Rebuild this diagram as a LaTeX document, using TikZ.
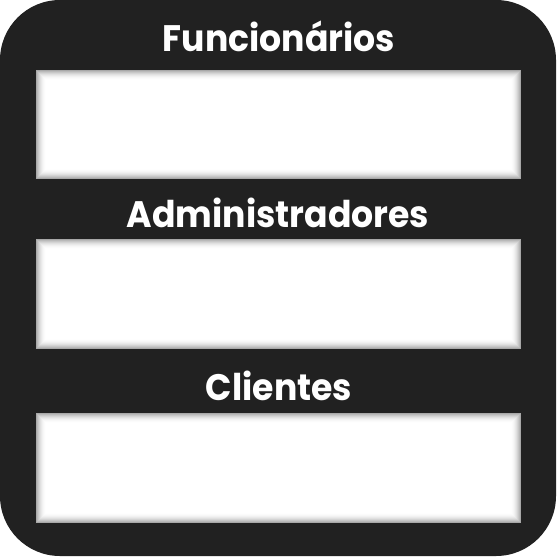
\documentclass[tikz,border=0pt]{standalone}
\usepackage{fontspec}
\setmainfont{Poppins}
\usepackage{tikz}

\definecolor{framegray}{HTML}{212121}

\tikzset{
  title/.style={text=white, font=\fontsize{37}{40}\selectfont\bfseries, inner sep=0pt, anchor=base, xscale=0.94},
}

\begin{document}
\begin{tikzpicture}[x=1bp, y=-1bp]
    \useasboundingbox (0,0) rectangle (557,557);

    % Dark outer frame
    \fill[framegray, rounded corners=60bp] (0,0) rectangle (556,556);

    % Panels with a soft inner shadow
    \foreach \top/\bot in {70/179, 239/349, 413/523} {
        \foreach \i in {0,...,10} {
            \pgfmathsetmacro\dark{34*(1-\i/10)^2}
            \fill[black!\dark!white] (36+\i,\top+\i) rectangle (521-\i,\bot-\i);
        }
    }

    % Section titles
    \node[title] (func) at (279,52) {Funcionários};
    \node[title] (admin) at (278,227) {Administradores};
    \node[title] (clients) at (279,400) {Clientes};
\end{tikzpicture}
\end{document}
